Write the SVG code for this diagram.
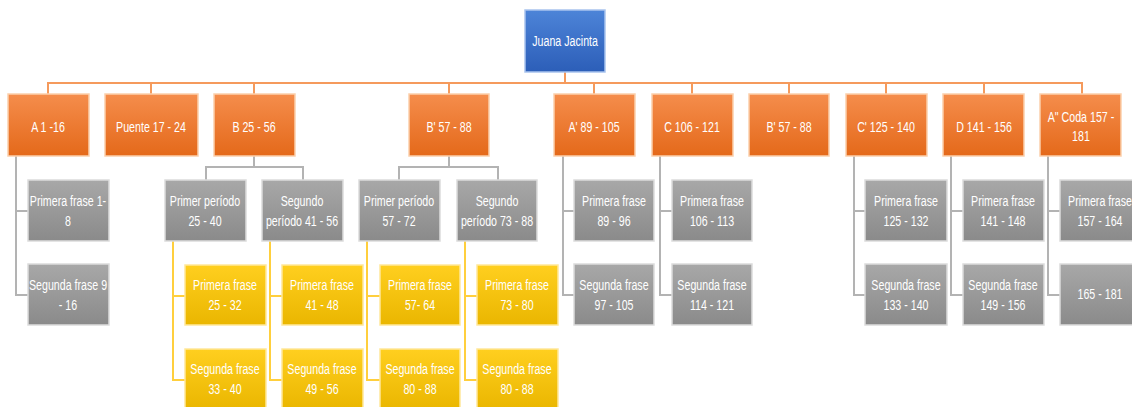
<svg xmlns="http://www.w3.org/2000/svg" width="1132" height="407" viewBox="0 0 1132 407">
<style>
text{font-family:"Liberation Sans",Arial,sans-serif;font-size:15px;fill:#fff;text-anchor:middle;transform-box:fill-box;transform-origin:center;transform:scaleX(0.71);}
.o{fill:url(#go);stroke:#fbd0ac;stroke-width:1.5}
.b{fill:url(#gb);stroke:#a9c4ee;stroke-width:1.5}
.g{fill:url(#gg);stroke:#dcdcdc;stroke-width:1.5}
.y{fill:url(#gy);stroke:#ffe89a;stroke-width:1.5}
.co{fill:none;stroke:#f59a5c;stroke-width:2}
.cg{fill:none;stroke:#b3b3b3;stroke-width:2}
.cy{fill:none;stroke:#ffcf3d;stroke-width:2}
</style>
<defs>
<linearGradient id="go" x1="0" y1="0" x2="0" y2="1"><stop offset="0" stop-color="#f58d4c"/><stop offset="1" stop-color="#e4691a"/></linearGradient>
<linearGradient id="gb" x1="0" y1="0" x2="0" y2="1"><stop offset="0" stop-color="#4d84d8"/><stop offset="1" stop-color="#2c5eb8"/></linearGradient>
<linearGradient id="gg" x1="0" y1="0" x2="0" y2="1"><stop offset="0" stop-color="#a8a8a8"/><stop offset="1" stop-color="#8a8a8a"/></linearGradient>
<linearGradient id="gy" x1="0" y1="0" x2="0" y2="1"><stop offset="0" stop-color="#ffcf1f"/><stop offset="1" stop-color="#eab600"/></linearGradient>
</defs>
<g id="connectors">
<path class="co" d="M565 72V83M48 94V83H1082V94M151 83V94M254 83V94M449 83V94M594 83V94M692 83V94M789 83V94M886 83V94M984 83V94"/>
<path class="cg" d="M16 156V295H28M16 211H28M254 156V167M206 180V167H303V180M449 156V167M399 180V167H498V180M563 156V295H574M563 211H574M660 156V295H672M660 211H672M854 156V295H865M854 211H865M951 156V295H963M951 211H963M1048 156V295H1060M1048 211H1060"/>
<path class="cy" d="M173 241V380H185M173 296H185M270 241V380H282M270 296H282M367 241V380H380M367 296H380M465 241V380H477M465 296H477"/>
</g>
<g id="root"><rect class="b" x="525" y="10" width="80" height="62"/><text x="565" y="46">Juana Jacinta</text></g>
<g id="nA"><rect class="o" x="8" y="94" width="81" height="62"/><text x="48" y="132">A 1 -16</text></g>
<g id="nPuente"><rect class="o" x="105" y="94" width="93" height="62"/><text x="151" y="132">Puente 17 - 24</text></g>
<g id="nB"><rect class="o" x="214" y="94" width="81" height="62"/><text x="254" y="132">B 25 - 56</text></g>
<g id="nB2"><rect class="o" x="409" y="94" width="80" height="62"/><text x="449" y="132">B' 57 - 88</text></g>
<g id="nA2"><rect class="o" x="554" y="94" width="81" height="62"/><text x="594" y="132">A' 89 - 105</text></g>
<g id="nC"><rect class="o" x="652" y="94" width="81" height="62"/><text x="692" y="132">C 106 - 121</text></g>
<g id="nB3"><rect class="o" x="749" y="94" width="80" height="62"/><text x="789" y="132">B' 57 - 88</text></g>
<g id="nC2"><rect class="o" x="846" y="94" width="81" height="62"/><text x="886" y="132">C' 125 - 140</text></g>
<g id="nD"><rect class="o" x="943" y="94" width="81" height="62"/><text x="984" y="132">D 141 - 156</text></g>
<g id="nA3"><rect class="o" x="1040" y="94" width="81" height="62"/><text x="1081" y="122">A" Coda 157 -</text><text x="1081" y="141">181</text></g>

<g id="nA_1"><rect class="g" x="28" y="180" width="81" height="61"/><text x="68" y="206">Primera frase 1-</text><text x="68" y="226">8</text></g>
<g id="nA_2"><rect class="g" x="28" y="264" width="81" height="61"/><text x="68" y="290">Segunda frase 9</text><text x="68" y="310">- 16</text></g>

<g id="nB_p1"><rect class="g" x="165" y="180" width="81" height="61"/><text x="205" y="206">Primer período</text><text x="205" y="226">25 - 40</text></g>
<g id="nB_p2"><rect class="g" x="262" y="180" width="81" height="61"/><text x="302" y="206">Segundo</text><text x="302" y="226">período 41 - 56</text></g>
<g id="nB_p1f1"><rect class="y" x="185" y="265" width="81" height="60"/><text x="225" y="290">Primera frase</text><text x="225" y="310">25 - 32</text></g>
<g id="nB_p1f2"><rect class="y" x="185" y="349" width="81" height="61"/><text x="225" y="374">Segunda frase</text><text x="225" y="394">33 - 40</text></g>
<g id="nB_p2f1"><rect class="y" x="282" y="265" width="81" height="60"/><text x="322" y="290">Primera frase</text><text x="322" y="310">41 - 48</text></g>
<g id="nB_p2f2"><rect class="y" x="282" y="349" width="81" height="61"/><text x="322" y="374">Segunda frase</text><text x="322" y="394">49 - 56</text></g>

<g id="nB2_p1"><rect class="g" x="359" y="180" width="81" height="61"/><text x="399" y="206">Primer período</text><text x="399" y="226">57 - 72</text></g>
<g id="nB2_p2"><rect class="g" x="457" y="180" width="80" height="61"/><text x="497" y="206">Segundo</text><text x="497" y="226">período 73 - 88</text></g>
<g id="nB2_p1f1"><rect class="y" x="380" y="265" width="80" height="60"/><text x="420" y="290">Primera frase</text><text x="420" y="310">57- 64</text></g>
<g id="nB2_p1f2"><rect class="y" x="380" y="349" width="80" height="61"/><text x="420" y="374">Segunda frase</text><text x="420" y="394">80 - 88</text></g>
<g id="nB2_p2f1"><rect class="y" x="477" y="265" width="81" height="60"/><text x="517" y="290">Primera frase</text><text x="517" y="310">73 - 80</text></g>
<g id="nB2_p2f2"><rect class="y" x="477" y="349" width="81" height="61"/><text x="517" y="374">Segunda frase</text><text x="517" y="394">80 - 88</text></g>

<g id="nA2_1"><rect class="g" x="574" y="180" width="80" height="61"/><text x="614" y="206">Primera frase</text><text x="614" y="226">89 - 96</text></g>
<g id="nA2_2"><rect class="g" x="574" y="264" width="80" height="61"/><text x="614" y="290">Segunda frase</text><text x="614" y="310">97 - 105</text></g>
<g id="nC_1"><rect class="g" x="672" y="180" width="80" height="61"/><text x="712" y="206">Primera frase</text><text x="712" y="226">106 - 113</text></g>
<g id="nC_2"><rect class="g" x="672" y="264" width="80" height="61"/><text x="712" y="290">Segunda frase</text><text x="712" y="310">114 - 121</text></g>
<g id="nC2_1"><rect class="g" x="865" y="180" width="82" height="61"/><text x="906" y="206">Primera frase</text><text x="906" y="226">125 - 132</text></g>
<g id="nC2_2"><rect class="g" x="865" y="264" width="82" height="61"/><text x="906" y="290">Segunda frase</text><text x="906" y="310">133 - 140</text></g>
<g id="nD_1"><rect class="g" x="963" y="180" width="81" height="61"/><text x="1003" y="206">Primera frase</text><text x="1003" y="226">141 - 148</text></g>
<g id="nD_2"><rect class="g" x="963" y="264" width="81" height="61"/><text x="1003" y="290">Segunda frase</text><text x="1003" y="310">149 - 156</text></g>
<g id="nA3_1"><rect class="g" x="1060" y="180" width="81" height="61"/><text x="1100" y="206">Primera frase</text><text x="1100" y="226">157 - 164</text></g>
<g id="nA3_2"><rect class="g" x="1060" y="264" width="81" height="61"/><text x="1100" y="299">165 - 181</text></g>
</svg>
